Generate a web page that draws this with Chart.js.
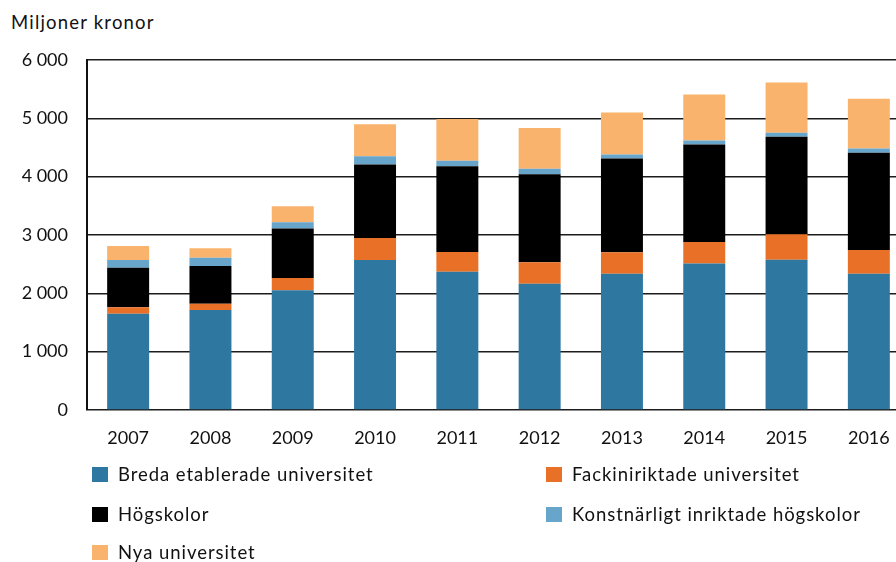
<!DOCTYPE html>
<html>
<head>
<meta charset="utf-8">
<script src="https://cdn.jsdelivr.net/npm/chart.js@4"></script>
<style>
  html, body { margin:0; padding:0; background:#fff; overflow:hidden; width:896px; height:562px; }
  body { font-family: Lato, "Open Sans", sans-serif; color:#111; position:relative; }
  #unit { position:absolute; left:11px; top:11px; font-size:18.5px; letter-spacing:1.2px; }
  #wrap { position:absolute; left:0; top:0; width:912px; height:450px; }
  #legend { position:absolute; left:0; top:0; width:896px; height:562px; pointer-events:none; }
  .lg { position:absolute; font-size:18.5px; line-height:20px; white-space:nowrap; letter-spacing:0.95px; }
  .lg i { position:absolute; left:-26px; top:3px; width:16px; height:15px; }
</style>
</head>
<body>
<div id="unit">Miljoner kronor</div>
<div id="wrap"><canvas id="c"></canvas></div>
<div id="legend"></div>
<script>
(function() {
  var years   = ['2007','2008','2009','2010','2011','2012','2013','2014','2015','2016'];
  var breda   = [1650, 1715, 2055, 2570, 2370, 2165, 2335, 2510, 2575, 2335];
  var fack    = [ 110,  105,  210,  380,  340,  370,  370,  370,  440,  410];
  var hogsk   = [ 680,  650,  845, 1260, 1470, 1505, 1605, 1670, 1670, 1665];
  var konst   = [ 130,  140,  110,  140,   95,   95,   70,   70,   70,   75];
  var nya     = [ 240,  165,  275,  550,  715,  700,  720,  790,  860,  850];
  var yTicks  = [0, 1000, 2000, 3000, 4000, 5000, 6000];

  var series = [
    {label:'Breda etablerade universitet',     data:breda, color:'#2e77a0'},
    {label:'Fackiniriktade universitet',       data:fack,  color:'#e97127'},
    {label:'Högskolor',                        data:hogsk, color:'#000000'},
    {label:'Konstnärligt inriktade högskolor', data:konst, color:'#68a5cb'},
    {label:'Nya universitet',                  data:nya,   color:'#fab36c'}
  ];

  var fmt = function(n) { return String(n).replace(/\B(?=(\d{3})+(?!\d))/g, ' '); };
  var font = {family:'Lato', size:18};

  var chart = new Chart(document.getElementById('c'), {
    type: 'bar',
    data: {
      labels: years,
      datasets: series.map(function(s) {
        return {label:s.label, data:s.data, backgroundColor:s.color, borderWidth:0,
                barPercentage:0.51, categoryPercentage:1};
      })
    },
    options: {
      responsive:true, maintainAspectRatio:false, animation:false,
      layout:{padding:{top:60, right:2, left:0, bottom:0}},
      plugins:{legend:{display:false}, tooltip:{enabled:false}},
      scales:{
        x:{stacked:true,
           grid:{display:false, drawTicks:false},
           border:{display:false},
           ticks:{color:'#111', font:font, padding:17},
           afterFit:function(s){ s.height = 40; }},
        y:{stacked:true, min:0, max:6000,
           afterBuildTicks:function(s){ s.ticks = yTicks.map(function(v){ return {value:v}; }); },
           grid:{color:'#1c1c1c', lineWidth:1.6, drawTicks:false},
           border:{display:true, color:'#111', width:2},
           ticks:{color:'#111', font:font, padding:19, callback:function(v){ return fmt(v); }},
           afterFit:function(s){ s.width = 87; }}
      }
    }
  });

  // legend, two columns
  var cols = [118, 572], rows = [464, 504, 542];
  var lg = document.getElementById('legend');
  chart.data.datasets.forEach(function(ds, i) {
    var d = document.createElement('div');
    d.className = 'lg';
    d.style.left = cols[i % 2] + 'px';
    d.style.top  = rows[Math.floor(i / 2)] + 'px';
    d.innerHTML = '<i style="background:' + ds.backgroundColor + '"></i>' + ds.label;
    lg.appendChild(d);
  });
})();
</script>
</body>
</html>
